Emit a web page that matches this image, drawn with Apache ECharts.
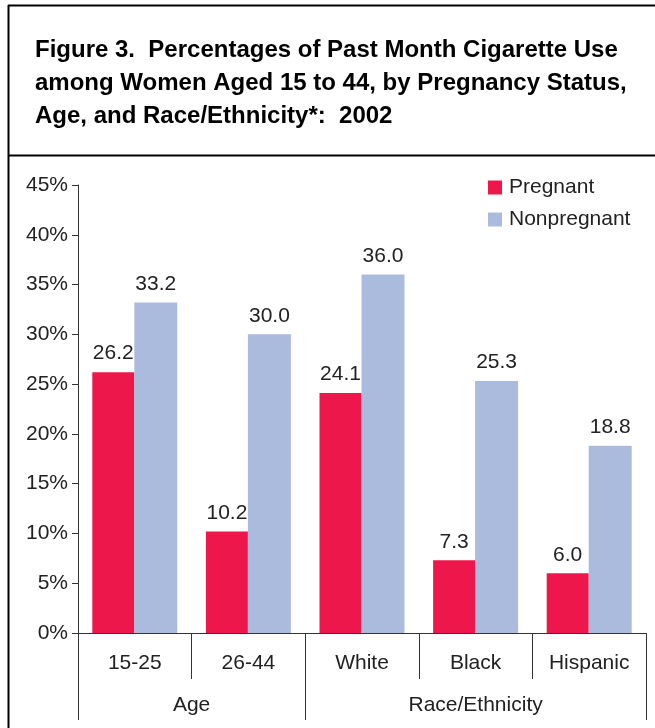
<!DOCTYPE html>
<html>
<head>
<meta charset="utf-8">
<script src="https://cdn.jsdelivr.net/npm/echarts@6/dist/echarts.min.js"></script>
<style>
  html, body { margin: 0; padding: 0; background: #fff; }
  #chart { width: 655px; height: 728px; }
</style>
</head>
<body>
<div id="chart"></div>
<script>
const categories = ['15-25', '26-44', 'White', 'Black', 'Hispanic'];
const pregnant = [26.2, 10.2, 24.1, 7.3, 6.0];
const nonpregnant = [33.2, 30.0, 36.0, 25.3, 18.8];
const groups = ['Age', 'Race/Ethnicity'];
const groupEdges = [0, 2, 5];     // where each group starts/ends, in category units
const groupCenters = [1, 3.5];
const titleLines = [
  'Figure 3.  Percentages of Past Month Cigarette Use',
  'among Women Aged 15 to 44, by Pregnancy Status,',
  'Age, and Race/Ethnicity*:  2002'
];

const font = 'Liberation Sans, Arial, sans-serif';
const axisColor = '#333';
const textColor = '#222';
const fs = 21;

const chart = echarts.init(document.getElementById('chart'));

const valueLabel = {
  show: true,
  position: 'top',
  distance: 8,
  formatter: (p) => p.value.toFixed(1),
  fontFamily: font,
  fontSize: fs,
  color: textColor,
};

const option = {
  animation: false,
  backgroundColor: '#fff',
  title: {
    text: titleLines.join('\n'),
    left: 35,
    top: 34,
    padding: 0,
    textStyle: {
      fontFamily: font,
      fontSize: 24,
      fontWeight: 'bold',
      color: '#000',
      lineHeight: 33,
    },
  },
  legend: {
    orient: 'vertical',
    left: 488,
    top: 177,
    padding: 0,
    itemWidth: 14,
    itemHeight: 14,
    itemGap: 11,
    icon: 'rect',
    textStyle: { fontFamily: font, fontSize: fs, color: textColor, padding: [0, 0, 0, 2] },
    data: ['Pregnant', 'Nonpregnant'],
  },
  grid: { left: 78, right: 9, top: 185, bottom: 95 },
  xAxis: [
    {
      type: 'category',
      data: categories,
      position: 'bottom',
      axisLine: { lineStyle: { color: axisColor, width: 1 } },
      axisTick: { show: true, interval: 0, length: 46, lineStyle: { color: axisColor } },
      axisLabel: { fontFamily: font, fontSize: fs, color: textColor, margin: 20, interval: 0 },
      splitLine: { show: false },
    },
    {
      // second tier: Age / Race/Ethnicity
      type: 'value',
      min: 0,
      max: 5,
      position: 'bottom',
      axisLine: { show: false },
      axisTick: {
        show: true,
        customValues: groupEdges,
        length: 87,
        lineStyle: { color: axisColor },
      },
      axisLabel: {
        customValues: groupCenters,
        formatter: (v) => groups[groupCenters.indexOf(v)],
        fontFamily: font,
        fontSize: fs,
        color: textColor,
        margin: 62,
      },
      splitLine: { show: false },
    },
  ],
  yAxis: {
    type: 'value',
    min: 0,
    max: 45,
    interval: 5,
    axisLine: { show: true, lineStyle: { color: axisColor, width: 1 } },
    axisTick: { show: true, length: 6, lineStyle: { color: axisColor } },
    axisLabel: { formatter: '{value}%', fontFamily: font, fontSize: fs, color: textColor, margin: 10 },
    splitLine: { show: false },
  },
  series: [
    {
      name: 'Pregnant',
      type: 'bar',
      data: pregnant,
      barWidth: 42,
      barGap: 0,
      itemStyle: { color: '#EE174B' },
      label: valueLabel,
    },
    {
      name: 'Nonpregnant',
      type: 'bar',
      data: nonpregnant,
      barWidth: 43,
      itemStyle: { color: '#AABBDD' },
      label: valueLabel,
    },
  ],
  graphic: [
    // frame: left edge, top edge, and line under the title
    { type: 'line', shape: { x1: 8.5, y1: 5, x2: 8.5, y2: 728 }, style: { stroke: '#000', lineWidth: 2 } },
    { type: 'line', shape: { x1: 8, y1: 5.5, x2: 655, y2: 5.5 }, style: { stroke: '#000', lineWidth: 2 } },
    { type: 'line', shape: { x1: 8, y1: 155.5, x2: 655, y2: 155.5 }, style: { stroke: '#000', lineWidth: 2 } },
  ],
};

chart.setOption(option);
</script>
</body>
</html>
